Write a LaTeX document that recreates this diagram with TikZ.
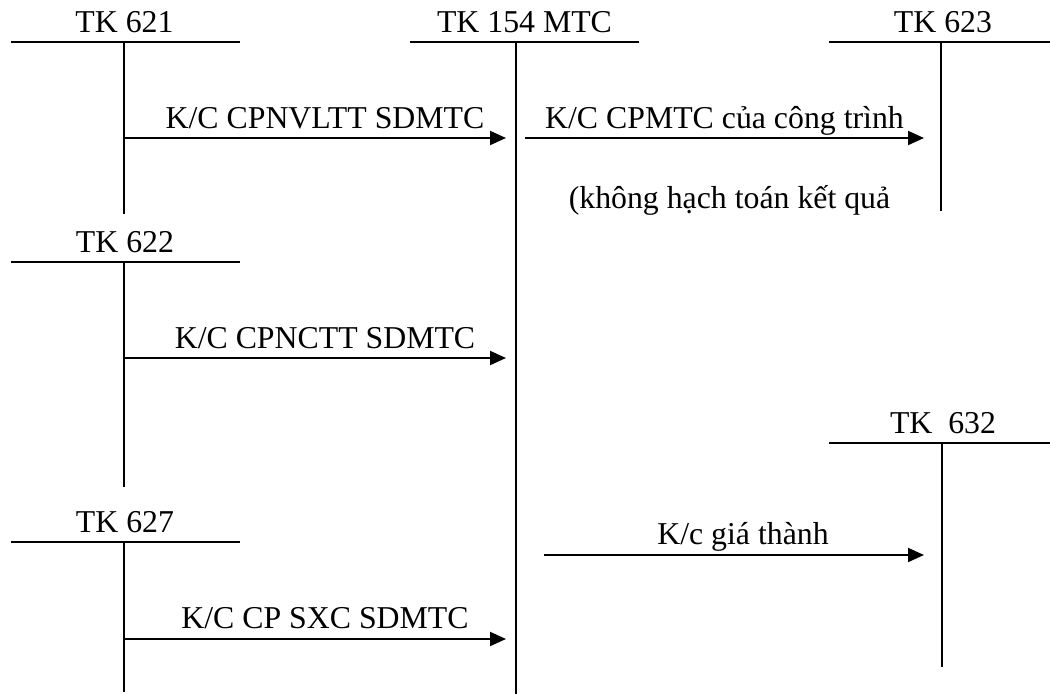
\documentclass[tikz,border=0pt]{standalone}
\usepackage{fontspec}
\setmainfont{Liberation Serif}
\usetikzlibrary{arrows.meta}
\begin{document}
\begin{tikzpicture}[x=1pt,y=-1pt,
  acct/.style={line width=1.6pt},
  flow/.style={line width=2pt,-{Triangle[length=16pt,width=14pt]}},
  lbl/.style={anchor=base,inner sep=0pt,font=\fontsize{31.8}{38}\selectfont}]
\useasboundingbox (0,0) rectangle (1050,694);

% T-accounts: horizontal bar ends (L,R), vertical stem ends (T,B)
\coordinate (a621L) at (11,42);   \coordinate (a621R) at (240,42);
\coordinate (a621T) at (124,42);  \coordinate (a621B) at (124,214);
\coordinate (a154L) at (410,42);  \coordinate (a154R) at (639,42);
\coordinate (a154T) at (516,42);  \coordinate (a154B) at (516,694);
\coordinate (a623L) at (829,42);  \coordinate (a623R) at (1050,42);
\coordinate (a623T) at (941,42);  \coordinate (a623B) at (941,211);
\coordinate (a622L) at (11,262);  \coordinate (a622R) at (240,262);
\coordinate (a622T) at (124,262); \coordinate (a622B) at (124,487);
\coordinate (a632L) at (829,443); \coordinate (a632R) at (1050,443);
\coordinate (a632T) at (942,443); \coordinate (a632B) at (942,667);
\coordinate (a627L) at (11,542);  \coordinate (a627R) at (240,542);
\coordinate (a627T) at (124,542); \coordinate (a627B) at (124,692);

\foreach \a in {621,154,623,622,632,627}{
  \draw[acct] (a\a L) -- (a\a R);
  \draw[acct] (a\a T) -- (a\a B);
}

% account titles
\node[lbl] (t621) at (124.5,32) {TK 621};
\node[lbl] (t154) at (524.5,32) {TK 154 MTC};
\node[lbl] (t623) at (943,32)   {TK 623};
\node[lbl] (t622) at (125,252)  {TK 622};
\node[lbl] (t632) at (943,433)  {TK~~632};
\node[lbl] (t627) at (125,532)  {TK 627};

% transfer arrows
\coordinate (f1s) at (125,138); \coordinate (f1e) at (506,138);
\coordinate (f2s) at (525,138); \coordinate (f2e) at (924,138);
\coordinate (f3s) at (125,358); \coordinate (f3e) at (506,358);
\coordinate (f4s) at (544,555); \coordinate (f4e) at (924,555);
\coordinate (f5s) at (125,639); \coordinate (f5e) at (506,639);
\foreach \f in {1,...,5}{ \draw[flow] (f\f s) -- (f\f e); }

% arrow labels
\node[lbl] (l1) at (325,128)   {K/C CPNVLTT SDMTC};
\node[lbl] (l2) at (724.5,128) {K/C CPMTC của công trình};
\node[lbl] (l2b) at (729.5,208) {(không hạch toán kết quả};
\node[lbl] (l3) at (325,348)   {K/C CPNCTT SDMTC};
\node[lbl] (l4) at (743,544)   {K/c giá thành};
\node[lbl] (l5) at (325,628)   {K/C CP SXC SDMTC};
\end{tikzpicture}
\end{document}
